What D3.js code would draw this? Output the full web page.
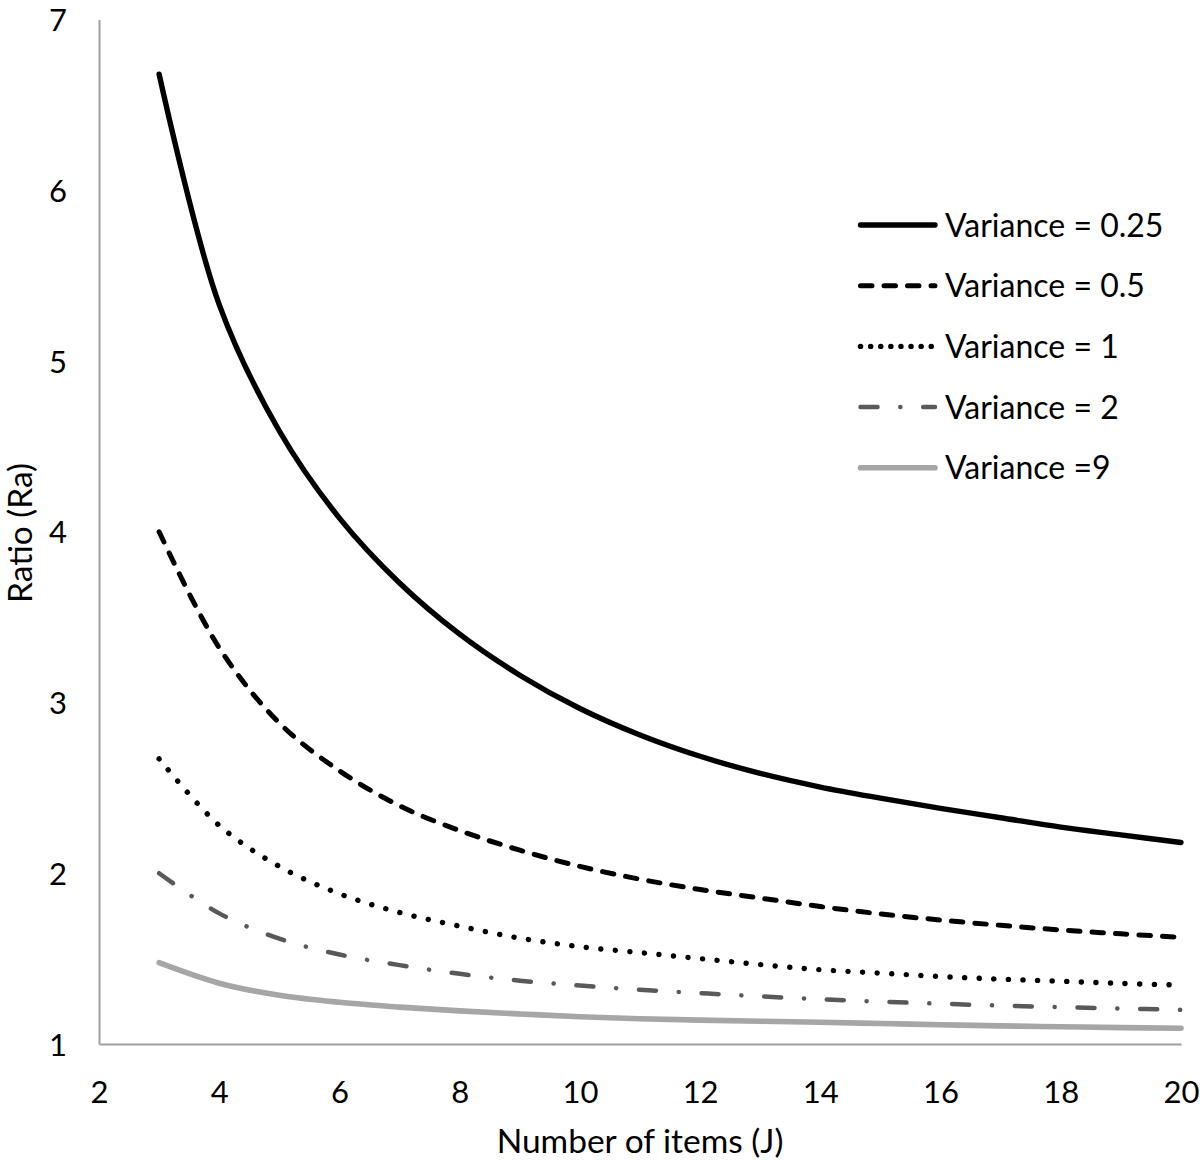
<!DOCTYPE html>
<html>
<head>
<meta charset="utf-8">
<script src="https://cdn.jsdelivr.net/npm/d3@7"></script>
<style>
  html, body { margin: 0; padding: 0; background: #fff; }
  svg { display: block; }
  text { font-family: Lato, "Noto Sans", sans-serif; fill: #000; }
</style>
</head>
<body>
<svg id="chart" width="1200" height="1162"></svg>
<script>
// ---- data ----
const items = [3,4,5,6,7,8,9,10,11,12,13,14,15,16,17,18,19,20];
const var025 = [6.68,5.33,4.59,4.08,3.70,3.40,3.16,2.965,2.81,2.685,2.585,2.505,2.44,2.38,2.325,2.27,2.225,2.18];
const var05  = [4.00,3.32,2.88,2.60,2.395,2.25,2.135,2.04,1.965,1.905,1.855,1.805,1.762,1.726,1.695,1.668,1.645,1.625];
const var1   = [2.67,2.28,2.04,1.88,1.77,1.69,1.62,1.57,1.535,1.50,1.465,1.435,1.415,1.395,1.38,1.368,1.355,1.345];
const var2   = [2.00,1.765,1.617,1.524,1.462,1.411,1.371,1.342,1.318,1.298,1.279,1.262,1.248,1.236,1.225,1.216,1.208,1.200];
const var9   = [1.476,1.356,1.285,1.244,1.216,1.194,1.176,1.160,1.148,1.140,1.133,1.127,1.120,1.113,1.106,1.101,1.096,1.092];
const seriesNames = ["Variance = 0.25","Variance = 0.5","Variance = 1","Variance = 2","Variance =9"];
const xTicks = [2,4,6,8,10,12,14,16,18,20];
const yTicks = [1,2,3,4,5,6,7];
const xTitle = "Number of items (J)";
const yTitle = "Ratio (Ra)";

// ---- styles ----
const styles = [
  {color:"#000000", width:5.4, dash:null,               legendDash:null},
  {color:"#000000", width:5.0, dash:"11.5,12",          legendDash:"11.5,12"},
  {color:"#000000", width:5.4, dash:"0.1,14.5",         legendDash:"0.1,10"},
  {color:"#595959", width:4.5, dash:"17,22.8,0.1,22.8", legendDash:"17,22.8,0.1,22.8"},
  {color:"#a6a6a6", width:5.6, dash:null,               legendDash:null}
];
const allSeries = [var025, var05, var1, var2, var9];

const svg = d3.select("#chart");
const x = d3.scaleLinear().domain([2,20]).range([99,1181]);
const y = d3.scaleLinear().domain([1,7]).range([1044,19.5]);
const fsTick = 31, fsLegend = 32, fsTitle = 33.5;
const fontFam = "Lato, 'Noto Sans', sans-serif";

// axes
const axisColor = "#a0a0a0";
const xAxis = d3.axisBottom(x).tickValues(xTicks).tickSize(0).tickPadding(0).tickFormat(d3.format("d"));
const yAxis = d3.axisLeft(y).tickValues(yTicks).tickSize(0).tickPadding(0).tickFormat(d3.format("d"));

const gx = svg.append("g").attr("transform","translate(0,1044)").call(xAxis);
gx.select(".domain").attr("stroke",axisColor).attr("stroke-width",2);
gx.selectAll("text").attr("font-size",fsTick).attr("dy",null).attr("y",59)
  .style("font-family",fontFam).attr("fill","#000");

const gy = svg.append("g").attr("transform","translate(99,0)").call(yAxis);
gy.select(".domain").attr("stroke",axisColor).attr("stroke-width",2);
gy.selectAll("text").attr("font-size",fsTick).attr("x",-32).attr("dy","0.36em")
  .attr("text-anchor","end")
  .style("font-family",fontFam).attr("fill","#000");

// titles
svg.append("text").attr("x",640).attr("y",1153).attr("text-anchor","middle")
  .attr("font-size",fsTitle).text(xTitle);
svg.append("text").attr("transform","translate(32,533) rotate(-90)")
  .attr("text-anchor","middle").attr("font-size",fsTitle).text(yTitle);

// lines
const line = d3.line().x((d,i)=>x(items[i])).y(d=>y(d)).curve(d3.curveCatmullRom.alpha(0.5));
const gLines = svg.append("g");
// draw lightest first so black lines are on top
allSeries.map((vals,k)=>({vals,k})).reverse().forEach(({vals,k})=>{
  const st = styles[k];
  gLines.append("path").datum(vals)
    .attr("d", line)
    .attr("fill","none")
    .attr("stroke", st.color)
    .attr("stroke-width", st.width)
    .attr("stroke-linecap","round")
    .attr("stroke-linejoin","round")
    .attr("stroke-dasharray", st.dash);
});

// legend
const legend = svg.append("g");
const rowY = [225, 285.7, 346.4, 407.1, 467.8];
seriesNames.forEach((name,k)=>{
  const st = styles[k];
  legend.append("line")
    .attr("x1",860.5).attr("x2",935).attr("y1",rowY[k]).attr("y2",rowY[k])
    .attr("stroke",st.color).attr("stroke-width",st.width)
    .attr("stroke-linecap","round")
    .attr("stroke-dasharray",st.legendDash);
  legend.append("text").attr("x",945).attr("y",rowY[k]).attr("dy","0.36em")
    .attr("font-size",fsLegend).text(name);
});
</script>
</body>
</html>
